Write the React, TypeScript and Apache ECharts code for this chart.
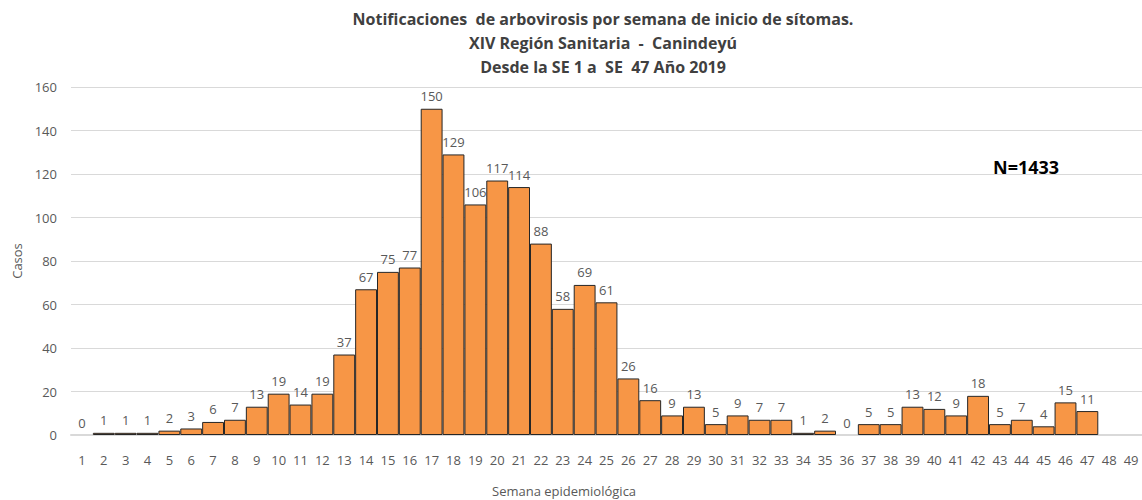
import React, { useEffect, useRef } from "react";
import * as echarts from "echarts";

const weeks: string[] = Array.from({ length: 49 }, (_, i) => String(i + 1));
const cases: (number | null)[] = [
  0, 1, 1, 1, 2, 3, 6, 7, 13, 19, 14, 19, 37, 67, 75, 77, 150, 129, 106, 117,
  114, 88, 58, 69, 61, 26, 16, 9, 13, 5, 9, 7, 7, 1, 2, 0, 5, 5, 13, 12, 9, 18,
  5, 7, 4, 15, 11, null, null,
];
const yTicks = { min: 0, max: 160, interval: 20 };
const titleText =
  "Notificaciones  de arbovirosis por semana de inicio de sítomas.\nXIV Región Sanitaria  -  Canindeyú\nDesde la SE 1 a  SE  47 Año 2019";
const totalText = "N=1433";

const FONT = "'Open Sans', 'Noto Sans', sans-serif";

export default function App() {
  const ref = useRef<HTMLDivElement>(null);
  useEffect(() => {
    if (!ref.current) return;
    const chart = echarts.init(ref.current, undefined, { renderer: "svg" });
    const barData = cases.map((v) =>
      v === 0 ? { value: v, itemStyle: { borderWidth: 0 } } : v
    );
    chart.setOption({
      animation: false,
      backgroundColor: "#ffffff",
      textStyle: { fontFamily: FONT },
      title: {
        text: titleText,
        left: 598,
        textAlign: "center",
        top: 2,
        textStyle: {
          fontFamily: FONT,
          fontSize: 16,
          fontWeight: "bold",
          color: "#404040",
          lineHeight: 24,
        },
      },
      grid: { left: 71, top: 87, width: 1073, height: 348, containLabel: false },
      xAxis: {
        type: "category",
        data: weeks,
        axisLine: { show: true, lineStyle: { color: "#d9d9d9", width: 2 } },
        axisTick: { show: false },
        axisLabel: { color: "#595959", fontSize: 13, margin: 18, interval: 0, fontFamily: FONT },
      },
      yAxis: {
        type: "value",
        min: yTicks.min,
        max: yTicks.max,
        interval: yTicks.interval,
        name: "Casos",
        nameLocation: "middle",
        nameGap: 48,
        nameRotate: 90,
        nameTextStyle: { color: "#595959", fontSize: 13, fontFamily: FONT },
        axisLine: { show: false },
        axisTick: { show: false },
        axisLabel: { color: "#595959", fontSize: 13, margin: 14, fontFamily: FONT },
        splitLine: { lineStyle: { color: "#d9d9d9", width: 1 } },
      },
      series: [
        {
          type: "bar",
          data: barData,
          barCategoryGap: "0%",
          itemStyle: { color: "#F79646", borderColor: "#262626", borderWidth: 1 },
          label: {
            show: true,
            position: "top",
            distance: 6,
            color: "#595959",
            fontSize: 13,
            fontFamily: FONT,
          },
        },
      ],
      graphic: [
        {
          type: "text",
          left: 552 - 60,
          top: 484,
          style: {
            text: "Semana epidemiológica",
            fill: "#595959",
            fontSize: 13,
            fontFamily: FONT,
          },
        },
        {
          type: "text",
          left: 993,
          top: 158,
          style: {
            text: totalText,
            fill: "#000000",
            fontSize: 18,
            fontWeight: "bold",
            fontFamily: FONT,
          },
        },
      ],
    });
    return () => chart.dispose();
  }, []);
  return (
    <div
      ref={ref}
      style={{ position: "absolute", left: 0, top: 0, width: 1142, height: 500 }}
    />
  );
}
